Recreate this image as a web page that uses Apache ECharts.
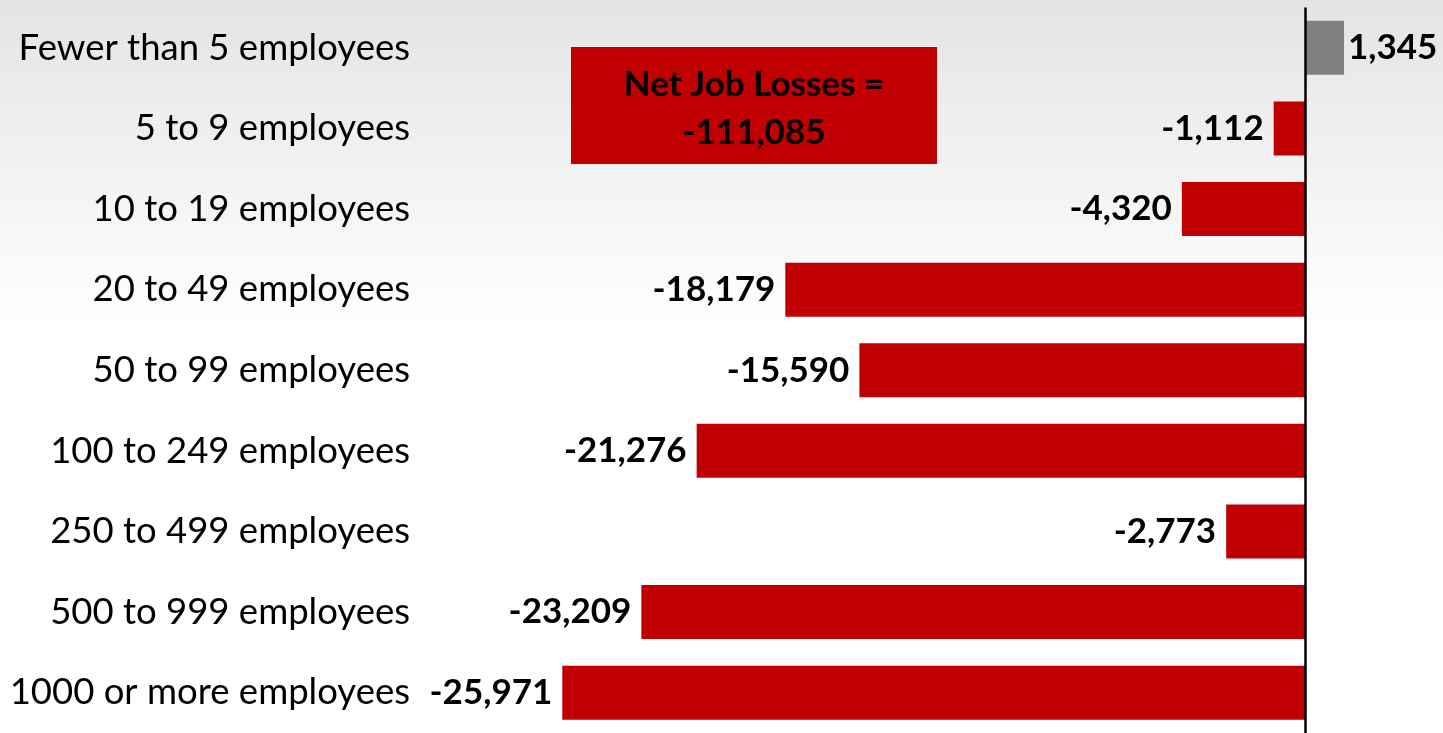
<!DOCTYPE html>
<html>
<head>
<meta charset="utf-8">
<script src="https://cdn.jsdelivr.net/npm/echarts@6/dist/echarts.min.js"></script>
<style>
  html, body { margin: 0; padding: 0; }
  #chart { width: 1443px; height: 733px; }
</style>
</head>
<body>
<div id="chart"></div>
<script>
// categories, top to bottom
const categories = [
  'Fewer than 5 employees',
  '5 to 9 employees',
  '10 to 19 employees',
  '20 to 49 employees',
  '50 to 99 employees',
  '100 to 249 employees',
  '250 to 499 employees',
  '500 to 999 employees',
  '1000 or more employees'
]
const netChange = [1345, -1112, -4320, -18179, -15590, -21276, -2773, -23209, -25971]
const boxTitle = 'Net Job Losses ='
const boxTotal = '-111,085'

const fontFamily = 'Lato, "Open Sans", sans-serif'

function fmt (v) {
  const s = Math.abs(v).toString().replace(/\B(?=(\d{3})+(?!\d))/g, ',')
  return (v < 0 ? '-' : '') + s
}

let myChart = echarts.init(document.getElementById('chart'))
let option = {
  animation: false,
  backgroundColor: {
    type: 'linear', x: 0, y: 0, x2: 0, y2: 1,
    colorStops: [
      { offset: 0, color: '#e4e4e4' },
      { offset: 0.45, color: '#ffffff' },
      { offset: 1, color: '#ffffff' }
    ]
  },
  grid: {
    left: 447,
    right: 23,
    top: 7.5,
    height: 729.5
  },
  xAxis: {
    type: 'value',
    min: -30000,
    max: 4000,
    show: false
  },
  yAxis: {
    type: 'category',
    data: categories,
    inverse: true,
    axisLine: { show: false },
    axisTick: { show: false },
    axisLabel: {
      margin: 37,
      fontSize: 36.5,
      color: '#000',
      fontFamily: fontFamily
    }
  },
  series: [{
    type: 'bar',
    barWidth: 54,
    data: netChange.map(v => ({
      value: v,
      itemStyle: { color: v >= 0 ? '#808080' : '#c00000' },
      label: v >= 0 ? { position: 'right', distance: 4 } : { position: 'left', distance: 10 }
    })),
    label: {
      show: true,
      fontSize: 35,
      fontWeight: 'bold',
      color: '#000',
      fontFamily: fontFamily,
      formatter: p => fmt(p.value)
    },
    markLine: {
      silent: true,
      symbol: 'none',
      label: { show: false },
      lineStyle: { color: '#000', width: 2.5, type: 'solid' },
      data: [{ xAxis: 0 }]
    }
  }],
  graphic: [{
    type: 'group',
    left: 571,
    top: 47,
    children: [{
      type: 'rect',
      shape: { x: 0, y: 0, width: 366, height: 117 },
      style: { fill: '#c00000' }
    }, {
      type: 'text',
      x: 183,
      y: 62,
      style: {
        text: boxTitle + '\n' + boxTotal,
        align: 'center',
        verticalAlign: 'middle',
        fontSize: 35,
        fontWeight: 'bold',
        lineHeight: 48,
        fill: '#000',
        fontFamily: fontFamily
      }
    }]
  }]
}
myChart.setOption(option)
</script>
</body>
</html>
